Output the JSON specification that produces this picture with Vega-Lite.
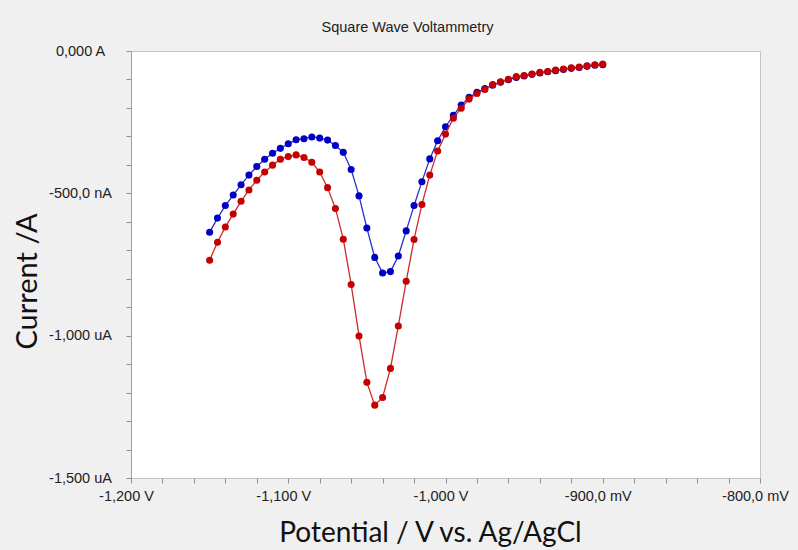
{
  "$schema": "https://vega.github.io/schema/vega-lite/v6.json",
  "width": 629,
  "height": 427,
  "autosize": {"type": "none"},
  "padding": {"left": 131, "top": 51, "right": 38, "bottom": 72},
  "background": "#f0f0f0",
  "config": {
    "view": {"fill": "white", "stroke": "#c4c4c4", "strokeWidth": 1},
    "axis": {"grid": false}
  },
  "title": {
    "text": "Square Wave Voltammetry",
    "font": "Liberation Sans",
    "fontSize": 14.5,
    "fontWeight": "normal",
    "color": "#222222",
    "anchor": "middle",
    "dx": -38,
    "baseline": "alphabetic",
    "offset": -3
  },
  "data": {
    "values": [
      {"series": "blue", "potential": -1150, "current": -637},
      {"series": "blue", "potential": -1145, "current": -587},
      {"series": "blue", "potential": -1140, "current": -543},
      {"series": "blue", "potential": -1135, "current": -506},
      {"series": "blue", "potential": -1130, "current": -470},
      {"series": "blue", "potential": -1125, "current": -436},
      {"series": "blue", "potential": -1120, "current": -406},
      {"series": "blue", "potential": -1115, "current": -380},
      {"series": "blue", "potential": -1110, "current": -359},
      {"series": "blue", "potential": -1105, "current": -342},
      {"series": "blue", "potential": -1100, "current": -326},
      {"series": "blue", "potential": -1095, "current": -312},
      {"series": "blue", "potential": -1090, "current": -308},
      {"series": "blue", "potential": -1085, "current": -302},
      {"series": "blue", "potential": -1080, "current": -306},
      {"series": "blue", "potential": -1075, "current": -313},
      {"series": "blue", "potential": -1070, "current": -332},
      {"series": "blue", "potential": -1065, "current": -356},
      {"series": "blue", "potential": -1060, "current": -416},
      {"series": "blue", "potential": -1055, "current": -509},
      {"series": "blue", "potential": -1050, "current": -622},
      {"series": "blue", "potential": -1045, "current": -725},
      {"series": "blue", "potential": -1040, "current": -780},
      {"series": "blue", "potential": -1035, "current": -775},
      {"series": "blue", "potential": -1030, "current": -720},
      {"series": "blue", "potential": -1025, "current": -632},
      {"series": "blue", "potential": -1020, "current": -543},
      {"series": "blue", "potential": -1015, "current": -459},
      {"series": "blue", "potential": -1010, "current": -379},
      {"series": "blue", "potential": -1005, "current": -315},
      {"series": "blue", "potential": -1000, "current": -266},
      {"series": "blue", "potential": -995, "current": -226},
      {"series": "blue", "potential": -990, "current": -190},
      {"series": "blue", "potential": -985, "current": -163},
      {"series": "blue", "potential": -980, "current": -145},
      {"series": "blue", "potential": -975, "current": -132},
      {"series": "blue", "potential": -970, "current": -120},
      {"series": "blue", "potential": -965, "current": -110},
      {"series": "blue", "potential": -960, "current": -101},
      {"series": "blue", "potential": -955, "current": -93},
      {"series": "blue", "potential": -950, "current": -88},
      {"series": "blue", "potential": -945, "current": -82},
      {"series": "blue", "potential": -940, "current": -77},
      {"series": "blue", "potential": -935, "current": -73},
      {"series": "blue", "potential": -930, "current": -69},
      {"series": "blue", "potential": -925, "current": -65},
      {"series": "blue", "potential": -920, "current": -61},
      {"series": "blue", "potential": -915, "current": -58},
      {"series": "blue", "potential": -910, "current": -54},
      {"series": "blue", "potential": -905, "current": -50},
      {"series": "blue", "potential": -900, "current": -48},
      {"series": "red", "potential": -1150, "current": -735},
      {"series": "red", "potential": -1145, "current": -672},
      {"series": "red", "potential": -1140, "current": -618},
      {"series": "red", "potential": -1135, "current": -573},
      {"series": "red", "potential": -1130, "current": -528},
      {"series": "red", "potential": -1125, "current": -488},
      {"series": "red", "potential": -1120, "current": -454},
      {"series": "red", "potential": -1115, "current": -425},
      {"series": "red", "potential": -1110, "current": -401},
      {"series": "red", "potential": -1105, "current": -380},
      {"series": "red", "potential": -1100, "current": -371},
      {"series": "red", "potential": -1095, "current": -365},
      {"series": "red", "potential": -1090, "current": -374},
      {"series": "red", "potential": -1085, "current": -391},
      {"series": "red", "potential": -1080, "current": -425},
      {"series": "red", "potential": -1075, "current": -480},
      {"series": "red", "potential": -1070, "current": -553},
      {"series": "red", "potential": -1065, "current": -661},
      {"series": "red", "potential": -1060, "current": -820},
      {"series": "red", "potential": -1055, "current": -1001},
      {"series": "red", "potential": -1050, "current": -1164},
      {"series": "red", "potential": -1045, "current": -1244},
      {"series": "red", "potential": -1040, "current": -1217},
      {"series": "red", "potential": -1035, "current": -1115},
      {"series": "red", "potential": -1030, "current": -966},
      {"series": "red", "potential": -1025, "current": -809},
      {"series": "red", "potential": -1020, "current": -662},
      {"series": "red", "potential": -1015, "current": -539},
      {"series": "red", "potential": -1010, "current": -436},
      {"series": "red", "potential": -1005, "current": -351},
      {"series": "red", "potential": -1000, "current": -292},
      {"series": "red", "potential": -995, "current": -236},
      {"series": "red", "potential": -990, "current": -201},
      {"series": "red", "potential": -985, "current": -169},
      {"series": "red", "potential": -980, "current": -149},
      {"series": "red", "potential": -975, "current": -135},
      {"series": "red", "potential": -970, "current": -118},
      {"series": "red", "potential": -965, "current": -108},
      {"series": "red", "potential": -960, "current": -99},
      {"series": "red", "potential": -955, "current": -90},
      {"series": "red", "potential": -950, "current": -86},
      {"series": "red", "potential": -945, "current": -81},
      {"series": "red", "potential": -940, "current": -75},
      {"series": "red", "potential": -935, "current": -72},
      {"series": "red", "potential": -930, "current": -67},
      {"series": "red", "potential": -925, "current": -63},
      {"series": "red", "potential": -920, "current": -59},
      {"series": "red", "potential": -915, "current": -56},
      {"series": "red", "potential": -910, "current": -52},
      {"series": "red", "potential": -905, "current": -48},
      {"series": "red", "potential": -900, "current": -46}
    ]
  },
  "encoding": {
    "x": {
      "field": "potential",
      "type": "quantitative",
      "scale": {"domain": [-1200, -800], "nice": false, "zero": false},
      "axis": {
        "title": "Potential / V vs. Ag/AgCl",
        "titleFont": "Lato",
        "titleFontSize": 28,
        "titleFontWeight": "normal",
        "titleColor": "#111111",
        "titleX": 299,
        "titleY": 63,
        "titleBaseline": "alphabetic",
        "values": [-1200, -1180, -1160, -1140, -1120, -1100, -1080, -1060, -1040, -1020, -1000, -980, -960, -940, -920, -900, -880, -860, -840, -820, -800],
        "labelExpr": "datum.value == -1200 ? '-1,200 V' : datum.value == -1100 ? '-1,100 V' : datum.value == -1000 ? '-1,000 V' : datum.value == -900 ? '-900,0 mV' : datum.value == -800 ? '-800,0 mV' : ''",
        "labelFont": "Liberation Sans",
        "labelFontSize": 14.5,
        "labelColor": "#222222",
        "labelFlush": false,
        "labelOverlap": false,
        "labelBound": false,
        "labelPadding": 6,
        "labelOffset": -5,
        "tickSize": 5,
        "tickColor": "#909090",
        "domain": false
      }
    },
    "y": {
      "field": "current",
      "type": "quantitative",
      "scale": {"domain": [-1500, 0], "nice": false, "zero": false},
      "axis": {
        "title": "Current /A",
        "titleFont": "Lato",
        "titleFontSize": 29,
        "titleFontWeight": "normal",
        "titleColor": "#111111",
        "titleX": -95,
        "titleY": 230,
        "titleBaseline": "alphabetic",
        "titleAlign": "center",
        "values": [0, -100, -200, -300, -400, -500, -600, -700, -800, -900, -1000, -1100, -1200, -1300, -1400, -1500],
        "labelExpr": "datum.value == 0 ? '0,000 A' : datum.value == -500 ? '-500,0 nA' : datum.value == -1000 ? '-1,000 uA' : datum.value == -1500 ? '-1,500 uA' : ''",
        "labelFont": "Liberation Sans",
        "labelFontSize": 14.5,
        "labelColor": "#222222",
        "labelAlign": "center",
        "labelBaseline": "middle",
        "labelPadding": 46,
        "labelFlush": false,
        "labelOverlap": false,
        "labelBound": false,
        "tickSize": 5,
        "tickColor": "#909090",
        "domainColor": "#a0a0a0"
      }
    }
  },
  "layer": [
    {
      "transform": [{"filter": "datum.series == 'blue'"}],
      "mark": {"type": "line", "color": "#2a2ad0", "strokeWidth": 1.3}
    },
    {
      "transform": [{"filter": "datum.series == 'blue'"}],
      "mark": {"type": "point", "filled": true, "color": "#0000c4", "size": 50, "opacity": 1}
    },
    {
      "transform": [{"filter": "datum.series == 'red'"}],
      "mark": {"type": "line", "color": "#d02a2a", "strokeWidth": 1.3}
    },
    {
      "transform": [{"filter": "datum.series == 'red'"}],
      "mark": {"type": "point", "filled": true, "color": "#c40000", "size": 50, "opacity": 1}
    }
  ]
}
